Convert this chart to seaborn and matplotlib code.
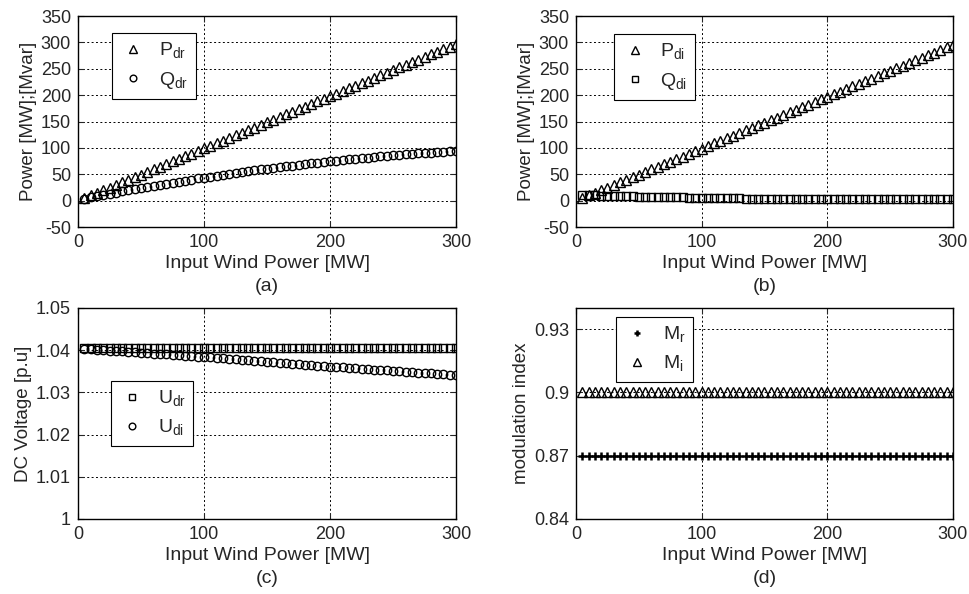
import matplotlib
matplotlib.use('Agg')
import matplotlib.pyplot as plt
import seaborn as sns
import pandas as pd

# input wind power [MW]
wind = [5, 10, 15, 20, 25, 30, 35, 40, 45, 50, 55, 60, 65, 70, 75, 80, 85, 90, 95, 100,
        105, 110, 115, 120, 125, 130, 135, 140, 145, 150, 155, 160, 165, 170, 175, 180, 185, 190, 195, 200,
        205, 210, 215, 220, 225, 230, 235, 240, 245, 250, 255, 260, 265, 270, 275, 280, 285, 290, 295, 300]

# (a) rectifier side
p_dr = [5.0, 9.9, 14.9, 19.8, 24.8, 29.7, 34.7, 39.6, 44.6, 49.5, 54.5, 59.4, 64.4, 69.3, 74.3, 79.2, 84.2, 89.1, 94.1, 99.0,
        104.0, 108.9, 113.9, 118.8, 123.8, 128.7, 133.7, 138.6, 143.6, 148.5, 153.5, 158.4, 163.4, 168.3, 173.3, 178.2, 183.2, 188.1, 193.1, 198.0,
        203.0, 207.9, 212.9, 217.8, 222.8, 227.7, 232.7, 237.6, 242.6, 247.5, 252.5, 257.4, 262.4, 267.3, 272.3, 277.2, 282.2, 287.1, 292.1, 297.0]
q_dr = [3.9, 6.2, 8.6, 10.9, 13.1, 15.4, 17.6, 19.8, 21.9, 24.1, 26.2, 28.2, 30.3, 32.3, 34.3, 36.3, 38.2, 40.1, 42.0, 43.8,
        45.6, 47.4, 49.2, 50.9, 52.6, 54.3, 55.9, 57.5, 59.1, 60.7, 62.2, 63.7, 65.2, 66.6, 68.0, 69.4, 70.8, 72.1, 73.4, 74.7,
        75.9, 77.2, 78.4, 79.5, 80.6, 81.7, 82.8, 83.9, 84.9, 85.9, 86.8, 87.8, 88.7, 89.5, 90.4, 91.2, 92.0, 92.8, 93.5, 94.2]

# (b) inverter side
p_di = [4.9, 9.9, 14.8, 19.7, 24.6, 29.6, 34.5, 39.4, 44.3, 49.3, 54.2, 59.1, 64.0, 69.0, 73.9, 78.8, 83.7, 88.7, 93.6, 98.5,
        103.4, 108.4, 113.3, 118.2, 123.1, 128.1, 133.0, 137.9, 142.8, 147.8, 152.7, 157.6, 162.5, 167.5, 172.4, 177.3, 182.2, 187.2, 192.1, 197.0,
        201.9, 206.9, 211.8, 216.7, 221.6, 226.6, 231.5, 236.4, 241.3, 246.3, 251.2, 256.1, 261.0, 266.0, 270.9, 275.8, 280.7, 285.7, 290.6, 295.5]
q_di = [11.0, 10.5, 10.0, 9.5, 9.0, 8.8, 8.5, 8.3, 8.0, 7.8, 7.0, 6.9, 6.8, 6.7, 6.6, 6.4, 6.2, 5.2, 5.1, 5.0,
        4.9, 4.8, 4.7, 4.6, 4.5, 4.4, 3.2, 3.1, 3.1, 3.0, 3.0, 2.9, 2.9, 2.9, 2.8, 2.8, 2.8, 2.7, 2.7, 2.7,
        2.6, 2.6, 2.6, 2.6, 2.5, 2.5, 2.5, 2.5, 2.5, 2.5, 2.4, 2.4, 2.4, 2.4, 2.4, 2.4, 2.4, 2.4, 2.4, 2.4]

# (c) dc voltage
u_dr = [1.0406, 1.0406, 1.0406, 1.0406, 1.0406, 1.0406, 1.0406, 1.0406, 1.0406, 1.0406, 1.0406, 1.0406, 1.0406, 1.0406, 1.0406,
        1.0406, 1.0406, 1.0406, 1.0406, 1.0406, 1.0406, 1.0406, 1.0406, 1.0406, 1.0406, 1.0406, 1.0406, 1.0406, 1.0406, 1.0406,
        1.0406, 1.0406, 1.0406, 1.0406, 1.0406, 1.0406, 1.0406, 1.0406, 1.0406, 1.0406, 1.0406, 1.0406, 1.0406, 1.0406, 1.0406,
        1.0406, 1.0406, 1.0406, 1.0406, 1.0406, 1.0406, 1.0406, 1.0406, 1.0406, 1.0406, 1.0406, 1.0406, 1.0406, 1.0406, 1.0406]
u_di = [1.0403, 1.0402, 1.0401, 1.0400, 1.0399, 1.0398, 1.0397, 1.0396, 1.0395, 1.0394, 1.0393, 1.0392, 1.0391, 1.0390, 1.0389,
        1.0388, 1.0387, 1.0386, 1.0385, 1.0384, 1.0383, 1.0382, 1.0381, 1.0379, 1.0378, 1.0377, 1.0376, 1.0375, 1.0374, 1.0372,
        1.0371, 1.0370, 1.0369, 1.0368, 1.0367, 1.0365, 1.0364, 1.0363, 1.0362, 1.0361, 1.0360, 1.0359, 1.0358, 1.0357, 1.0356,
        1.0355, 1.0354, 1.0353, 1.0352, 1.0351, 1.0350, 1.0349, 1.0348, 1.0347, 1.0346, 1.0345, 1.0344, 1.0343, 1.0342, 1.0341]

# (d) modulation index
m_r = [0.87, 0.87, 0.87, 0.87, 0.87, 0.87, 0.87, 0.87, 0.87, 0.87, 0.87, 0.87, 0.87, 0.87, 0.87,
       0.87, 0.87, 0.87, 0.87, 0.87, 0.87, 0.87, 0.87, 0.87, 0.87, 0.87, 0.87, 0.87, 0.87, 0.87,
       0.87, 0.87, 0.87, 0.87, 0.87, 0.87, 0.87, 0.87, 0.87, 0.87, 0.87, 0.87, 0.87, 0.87, 0.87,
       0.87, 0.87, 0.87, 0.87, 0.87, 0.87, 0.87, 0.87, 0.87, 0.87, 0.87, 0.87, 0.87, 0.87, 0.87]
m_i = [0.90, 0.90, 0.90, 0.90, 0.90, 0.90, 0.90, 0.90, 0.90, 0.90, 0.90, 0.90, 0.90, 0.90, 0.90,
       0.90, 0.90, 0.90, 0.90, 0.90, 0.90, 0.90, 0.90, 0.90, 0.90, 0.90, 0.90, 0.90, 0.90, 0.90,
       0.90, 0.90, 0.90, 0.90, 0.90, 0.90, 0.90, 0.90, 0.90, 0.90, 0.90, 0.90, 0.90, 0.90, 0.90,
       0.90, 0.90, 0.90, 0.90, 0.90, 0.90, 0.90, 0.90, 0.90, 0.90, 0.90, 0.90, 0.90, 0.90, 0.90]

df = pd.DataFrame({'wind': wind, 'p_dr': p_dr, 'q_dr': q_dr, 'p_di': p_di, 'q_di': q_di,
                   'u_dr': u_dr, 'u_di': u_di, 'm_r': m_r, 'm_i': m_i})

sns.set_style('ticks')
plt.rcParams['font.family'] = ['Liberation Sans', 'DejaVu Sans']
plt.rcParams['mathtext.fontset'] = 'custom'
plt.rcParams['mathtext.rm'] = 'Liberation Sans'
plt.rcParams['axes.unicode_minus'] = False
plt.rcParams['font.size'] = 13

fig = plt.figure(figsize=(9.69, 5.94), dpi=100)
ax_a = fig.add_axes([0.0805, 0.6178, 0.3901, 0.3552])
ax_b = fig.add_axes([0.5944, 0.6178, 0.3890, 0.3552])
ax_c = fig.add_axes([0.0805, 0.1263, 0.3901, 0.3552])
ax_d = fig.add_axes([0.5944, 0.1263, 0.3890, 0.3552])


def draw(ax, col, marker, label, size=6.5, mew=1.0):
    sns.lineplot(data=df, x='wind', y=col, ax=ax, marker=marker, linestyle='', color='k',
                 markersize=size, markerfacecolor='none', markeredgecolor='k',
                 markeredgewidth=mew, label=label)


def style(ax, ylim, yticks, ylabel, caption, leg_xy):
    ax.set_xlim(0, 300)
    ax.set_xticks([0, 100, 200, 300])
    ax.set_ylim(*ylim)
    ax.set_yticks(yticks)
    ax.set_xlabel('Input Wind Power [MW]', labelpad=3, fontsize=14)
    ax.set_ylabel(ylabel, labelpad=3, fontsize=13.5)
    ax.grid(True, color='k', linestyle=(0, (2, 2.5)), linewidth=0.7)
    ax.tick_params(direction='in', top=True, right=True, length=4, width=0.8, pad=5, labelsize=13)
    for s in ax.spines.values():
        s.set_visible(True)
        s.set_linewidth(1.0)
        s.set_color('k')
    leg = ax.legend(loc='upper left', bbox_to_anchor=leg_xy, frameon=True, fancybox=False,
                    framealpha=1, edgecolor='k', handlelength=1.4, handletextpad=0.6,
                    borderpad=0.4, labelspacing=0.45, fontsize=14, borderaxespad=0,
                    markerscale=0.8)
    leg.get_frame().set_linewidth(0.8)
    pos = ax.get_position()
    fig.text(pos.x0 + pos.width / 2, pos.y0 - 0.1, caption, ha='center', va='center', fontsize=14)


draw(ax_a, 'p_dr', '^', r'P$_{\mathrm{dr}}$')
draw(ax_a, 'q_dr', 'o', r'Q$_{\mathrm{dr}}$', size=6)
style(ax_a, (-50, 350), list(range(-50, 351, 50)), 'Power [MW];[Mvar]', '(a)', (0.09, 0.92))

draw(ax_b, 'p_di', '^', r'P$_{\mathrm{di}}$')
draw(ax_b, 'q_di', 's', r'Q$_{\mathrm{di}}$', size=6)
style(ax_b, (-50, 350), list(range(-50, 351, 50)), 'Power [MW];[Mvar]', '(b)', (0.10, 0.915))

draw(ax_c, 'u_dr', 's', r'U$_{\mathrm{dr}}$', size=6)
draw(ax_c, 'u_di', 'o', r'U$_{\mathrm{di}}$', size=6)
style(ax_c, (1.0, 1.05), [1.0, 1.01, 1.02, 1.03, 1.04, 1.05], 'DC Voltage [p.u]', '(c)', (0.087, 0.654))
ax_c.set_yticklabels(['1', '1.01', '1.02', '1.03', '1.04', '1.05'])

draw(ax_d, 'm_r', '+', r'M$_{\mathrm{r}}$', size=6, mew=1.8)
draw(ax_d, 'm_i', '^', r'M$_{\mathrm{i}}$')
style(ax_d, (0.84, 0.94), [0.84, 0.87, 0.90, 0.93], 'modulation index', '(d)', (0.106, 0.957))
ax_d.set_yticklabels(['0.84', '0.87', '0.9', '0.93'])

fig.savefig('out.png', dpi=100)
